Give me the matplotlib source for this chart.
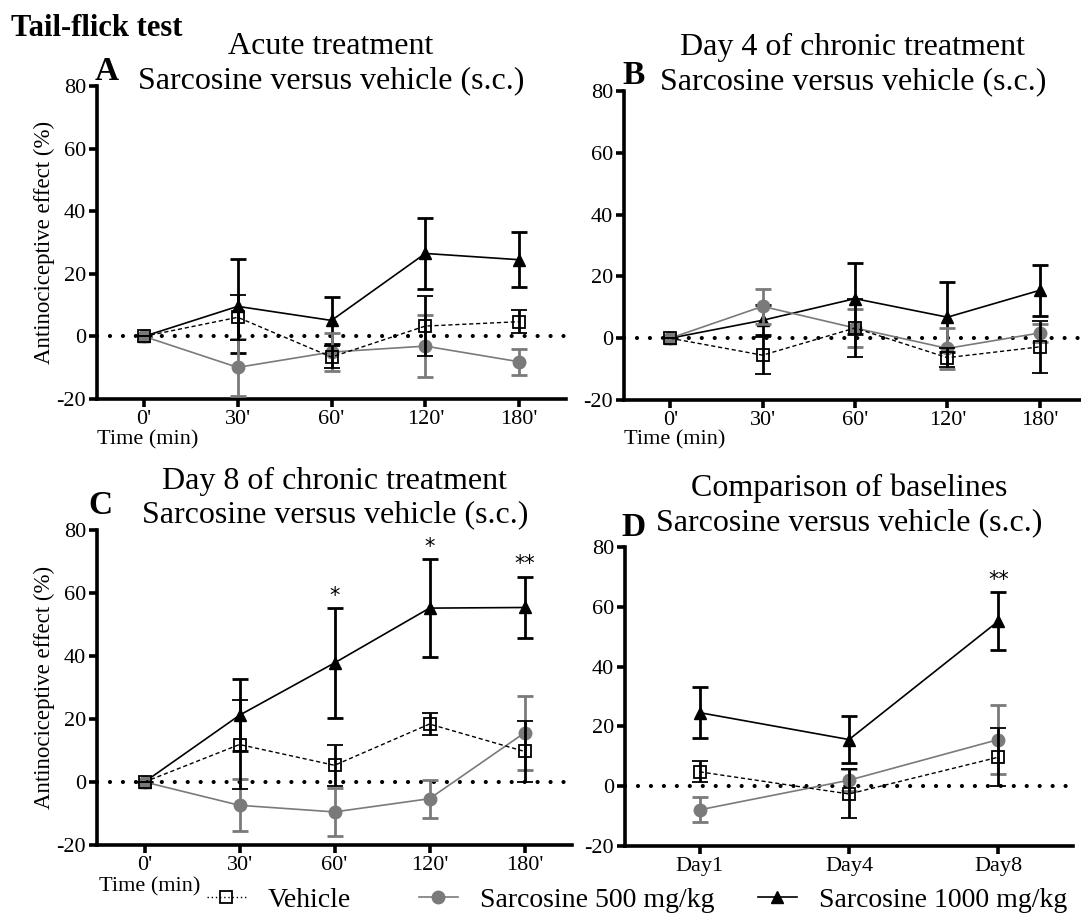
import matplotlib
matplotlib.use("Agg")
import matplotlib.pyplot as plt
from matplotlib.lines import Line2D

plt.rcParams['font.family'] = ['Liberation Serif', 'DejaVu Serif']
plt.rcParams['axes.unicode_minus'] = False

# --- donnees ---
times = ["0'", "30'", "60'", "120'", "180'"]
days = ["Day1", "Day4", "Day8"]

# A : traitement aigu
veh_a = [0, 6.1, -6.6, 3.3, 4.7]
veh_a_sem = [0, 7.2, 3.5, 9.5, 3.6]
s500_a = [0, -9.9, -5.0, -3.1, -8.1]
s500_a_sem = [0, 9.2, 6.2, 10.0, 4.2]
s1000_a = [0, 9.6, 5.1, 26.5, 24.5]
s1000_a_sem = [0, 15.0, 7.6, 11.3, 8.7]

# B : jour 4
veh_b = [0, -5.5, 3.3, -6.3, -2.8]
veh_b_sem = [0, 6.0, 9.3, 3.0, 8.4]
s500_b = [0, 10.3, 3.3, -3.3, 1.7]
s500_b_sem = [0, 5.6, 6.0, 6.7, 3.0]
s1000_b = [0, 5.8, 12.8, 6.8, 15.5]
s1000_b_sem = [0, 4.8, 11.5, 11.4, 8.3]

# C : jour 8
veh_c = [0, 11.9, 5.3, 18.4, 9.7]
veh_c_sem = [0, 14.0, 6.6, 3.4, 9.7]
s500_c = [0, -7.4, -9.5, -5.3, 15.6]
s500_c_sem = [0, 8.3, 7.5, 6.0, 11.8]
s1000_c = [0, 21.2, 37.8, 55.2, 55.4]
s1000_c_sem = [0, 11.4, 17.5, 15.6, 9.8]
stars_c = ['', '', '*', '*', '**']

# D : comparaison des lignes de base
veh_d = [4.8, -2.6, 9.7]
veh_d_sem = [3.5, 8.2, 9.8]
s500_d = [-7.9, 2.0, 15.6]
s500_d_sem = [4.2, 3.6, 11.6]
s1000_d = [24.6, 15.6, 55.2]
s1000_d_sem = [8.6, 8.0, 9.8]
stars_d = ['', '', '**']

W, H = 1081, 919
GRAY = '#7a7a7a'


def rect(l, t, r, b):
    return [l / W, 1 - b / H, (r - l) / W, (b - t) / H]


def ftxt(x, y, s, **kw):
    fig.text(x / W, 1 - y / H, s, ha=kw.pop('ha', 'center'), va=kw.pop('va', 'center'), **kw)


def panel(ax, labels, veh, veh_sem, s500, s500_sem, s1000, s1000_sem, stars=None):
    x = list(range(len(labels)))
    ax.axhline(0, color='k', lw=3, ls=(0, (0.01, 3.1)), dash_capstyle='round', zorder=1)
    ax.errorbar(x, s1000, yerr=s1000_sem, color='k', lw=1.2, marker='^', ms=9,
                ecolor='k', elinewidth=2, capsize=6, capthick=2, zorder=3)
    ax.errorbar(x, s500, yerr=s500_sem, color=GRAY, lw=1.2, marker='o', ms=9,
                ecolor=GRAY, elinewidth=2, capsize=6, capthick=2, zorder=4)
    ax.errorbar(x, veh, yerr=veh_sem, color='k', lw=1, ls=(0, (3, 2)), marker='s', ms=8,
                mfc='none', mec='k', mew=1.3, ecolor='k', elinewidth=2, capsize=6,
                capthick=2, zorder=5)
    if stars:
        for i, s in enumerate(stars):
            if s:
                ax.text(x[i], s1000[i] + s1000_sem[i] + 2, s, ha='center', va='baseline',
                        fontsize=15, family='DejaVu Sans')
    ax.set_xlim(-0.5, len(labels) - 0.5)
    ax.set_ylim(-20, 80)
    ax.set_yticks([-20, 0, 20, 40, 60, 80])
    ax.set_xticks(x)
    ax.set_xticklabels(labels)
    for side in ['top', 'right']:
        ax.spines[side].set_visible(False)
    for side in ['left', 'bottom']:
        ax.spines[side].set_linewidth(2.6)
    ax.tick_params(direction='out', length=6, width=2.6, labelsize=16, pad=2)


fig = plt.figure(figsize=(W / 100, H / 100), dpi=100)
ax_a = fig.add_axes(rect(97, 86, 566, 399))
ax_b = fig.add_axes(rect(624, 91, 1086, 400))
ax_c = fig.add_axes(rect(97, 530, 572, 845))
ax_d = fig.add_axes(rect(625, 547, 1073, 846))

panel(ax_a, times, veh_a, veh_a_sem, s500_a, s500_a_sem, s1000_a, s1000_a_sem)
panel(ax_b, times, veh_b, veh_b_sem, s500_b, s500_b_sem, s1000_b, s1000_b_sem)
panel(ax_c, times, veh_c, veh_c_sem, s500_c, s500_c_sem, s1000_c, s1000_c_sem, stars_c)
panel(ax_d, days, veh_d, veh_d_sem, s500_d, s500_d_sem, s1000_d, s1000_d_sem, stars_d)

for ax in (ax_a, ax_c):
    ax.set_ylabel('Antinociceptive effect (%)', fontsize=16.5, labelpad=1)

# titres
ftxt(11, 28, 'Tail-flick test', ha='left', fontsize=22, fontweight='bold')
ftxt(331, 46, 'Acute treatment', fontsize=23)
ftxt(331, 81, 'Sarcosine versus vehicle (s.c.)', fontsize=23)
ftxt(853, 47, 'Day 4 of chronic treatment', fontsize=23)
ftxt(853, 82, 'Sarcosine versus vehicle (s.c.)', fontsize=23)
ftxt(335, 481, 'Day 8 of chronic treatment', fontsize=23)
ftxt(335, 515, 'Sarcosine versus vehicle (s.c.)', fontsize=23)
ftxt(849, 488, 'Comparison of baselines', fontsize=23)
ftxt(849, 523, 'Sarcosine versus vehicle (s.c.)', fontsize=23)

ftxt(107, 71, 'A', fontsize=24, fontweight='bold')
ftxt(634, 75, 'B', fontsize=24, fontweight='bold')
ftxt(100, 506, 'C', fontsize=24, fontweight='bold')
ftxt(634, 528, 'D', fontsize=24, fontweight='bold')

ftxt(148, 440, 'Time (min)', fontsize=16)
ftxt(675, 440, 'Time (min)', fontsize=16)
ftxt(150, 887, 'Time (min)', fontsize=16)

# legende
h_veh = Line2D([], [], color='k', lw=1, ls=(0, (1, 2)), marker='s', ms=8, mfc='none', mec='k', mew=1.3)
h_500 = Line2D([], [], color=GRAY, lw=1.2, marker='o', ms=9)
h_1000 = Line2D([], [], color='k', lw=1.2, marker='^', ms=9)
for h, lab, xp in [(h_veh, 'Vehicle', 207), (h_500, 'Sarcosine 500 mg/kg', 419), (h_1000, 'Sarcosine 1000 mg/kg', 758)]:
    fig.legend([h], [lab], loc='center left', bbox_to_anchor=(xp / W, 1 - 900 / H),
               frameon=False, fontsize=20, handlelength=1.4, handletextpad=0.8,
               borderpad=0, borderaxespad=0)

plt.savefig('out.png', dpi=100)
